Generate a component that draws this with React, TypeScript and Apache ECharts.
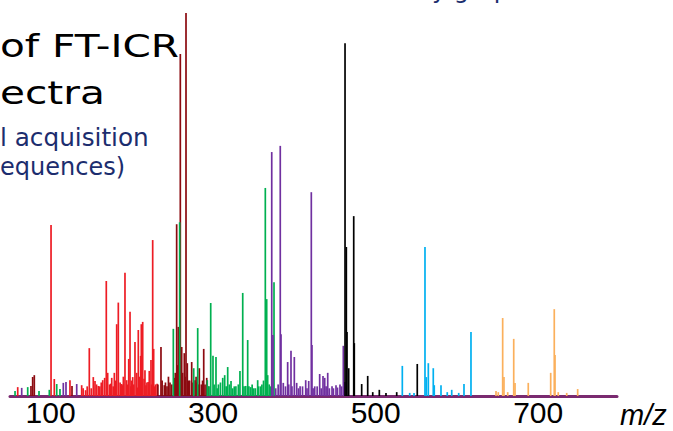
import React, { useEffect, useRef } from "react";
import * as echarts from "echarts";

// m/z axis tick labels
const tickValues = [100, 300, 500, 700];

// Peaks: [m/z, relative intensity]
const redPeaks: number[][] = [
  [59.5, 2.3], [100.5, 44.3], [104.5, 4.4], [123.8, 4.1], [138.2, 2.8], [140.0, 2.0],
  [143.0, 1.5], [145.0, 2.5], [147.6, 12.4], [150.0, 2.0], [152.5, 4.9], [154.6, 3.9],
  [156.5, 3.0], [158.7, 2.6], [160.5, 2.5], [162.3, 3.5], [164.1, 4.1], [166.5, 4.7],
  [168.5, 29.8], [170.2, 6.0], [172.5, 3.0], [174.0, 3.2], [175.2, 4.7], [177.0, 2.5],
  [178.4, 6.0], [180.0, 4.0], [181.3, 18.6], [183.3, 24.2], [185.5, 3.5], [186.5, 3.0],
  [187.5, 3.1], [188.6, 2.8], [189.5, 5.0], [191.5, 31.9], [193.6, 4.1], [195.0, 3.0],
  [196.1, 9.6], [197.7, 21.8], [198.8, 2.5], [199.5, 4.0], [201.0, 4.9], [202.2, 3.0],
  [203.8, 14.0], [205.9, 6.0], [206.8, 2.2], [207.9, 17.1], [209.5, 5.0], [210.8, 10.4],
  [211.6, 18.6], [212.4, 3.5], [213.3, 19.2], [215.0, 4.5], [216.1, 6.7], [217.3, 2.8],
  [218.5, 3.5], [220.0, 3.6], [221.4, 6.5], [223.5, 9.3], [224.4, 3.0], [225.6, 40.4],
  [226.8, 12.2], [227.8, 2.5], [229.0, 3.0], [231.0, 3.2],
];
const darkRedPeaks: number[][] = [
  [75.8, 2.6], [77.9, 4.9], [79.9, 5.4], [126.3, 2.6], [232.0, 3.0], [235.8, 12.7],
  [237.2, 4.0], [239.9, 2.8], [241.3, 3.5], [243.2, 2.5], [245.0, 5.0], [246.9, 3.5],
  [249.0, 3.0], [252.2, 4.7], [253.4, 6.0], [255.1, 44.5], [256.2, 8.0], [257.1, 17.9],
  [259.6, 88.6], [261.3, 12.7], [262.4, 6.0], [264.5, 11.1], [265.5, 5.0], [266.6, 99.2],
  [268.2, 8.5], [270.0, 4.0], [271.0, 4.0], [273.6, 8.8], [275.2, 3.5], [277.7, 4.1],
  [279.0, 5.0], [280.0, 3.5], [282.0, 3.0], [283.0, 7.2], [285.5, 3.0], [287.0, 4.0],
  [288.4, 12.2], [290.0, 3.0], [292.1, 4.7], [294.0, 2.5],
];
const greenPeaks: number[][] = [
  [56.2, 1.3], [71.8, 2.3], [85.7, 1.3], [98.4, 1.6], [107.5, 3.1], [111.5, 1.8],
  [251.0, 17.4], [258.8, 45.0], [276.1, 7.2], [281.0, 17.6], [292.8, 4.1], [295.0, 2.5],
  [297.0, 24.1], [299.8, 10.4], [301.2, 3.0], [303.5, 10.1], [305.0, 2.0], [306.5, 3.0],
  [309.0, 3.5], [311.8, 4.7], [314.2, 5.4], [316.0, 2.5], [317.9, 7.5], [320.0, 3.0],
  [322.0, 3.9], [324.0, 2.0], [326.0, 2.5], [328.0, 2.5], [331.0, 3.0], [333.0, 6.5],
  [336.4, 26.7], [338.0, 2.5], [340.1, 2.6], [342.5, 14.5], [344.0, 2.5], [346.2, 2.3],
  [348.0, 3.0], [350.0, 2.0], [352.0, 2.0], [354.8, 4.1], [356.0, 2.5], [358.5, 2.5],
  [360.0, 3.0], [362.0, 4.0], [364.2, 53.9], [365.9, 25.1], [367.1, 5.4], [369.0, 3.0],
  [371.0, 2.5], [374.9, 29.5],
];
const purplePeaks: number[][] = [
  [64.4, 2.1], [115.6, 3.4], [118.9, 3.6], [132.1, 3.1], [372.1, 63.2], [373.6, 15.8],
  [377.0, 2.0], [380.0, 3.0], [382.6, 64.8], [383.5, 16.0], [386.3, 3.4], [389.0, 2.5],
  [391.7, 8.8], [393.0, 3.0], [395.8, 11.7], [397.0, 2.5], [399.9, 10.1], [402.8, 3.4],
  [405.0, 2.0], [407.0, 2.5], [410.0, 2.5], [413.9, 4.1], [415.5, 2.0], [417.6, 3.9],
  [420.8, 52.8], [421.6, 13.2], [423.0, 2.0], [425.0, 2.5], [428.0, 2.5], [431.1, 5.7],
  [433.0, 2.0], [435.2, 5.2], [437.3, 4.7], [439.0, 2.5], [441.0, 6.0], [443.0, 2.0],
  [446.3, 2.5], [448.0, 2.0], [451.2, 2.8], [453.0, 2.2], [456.1, 3.0], [458.0, 2.5],
  [460.2, 13.0], [462.2, 3.6],
];
const blackPeaks: number[][] = [
  [462.3, 91.4], [463.9, 38.6], [464.7, 16.6], [466.8, 7.2], [473.0, 46.6], [473.7, 13.7],
  [482.8, 3.1], [490.2, 5.2], [496.4, 1.0], [504.5, 1.6], [512.7, 0.8], [525.9, 1.0],
  [551.2, 8.3],
];
const bluePeaks: number[][] = [
  [532.8, 7.8], [541.9, 0.8], [547.2, 0.8], [560.7, 38.6], [562.3, 4.9], [564.8, 8.5],
  [570.9, 7.2], [572.1, 2.8], [580.4, 2.8], [588.1, 1.0], [593.6, 1.6], [602.2, 0.8],
  [608.7, 3.1], [617.3, 16.6],
];
const orangePeaks: number[][] = [
  [648.1, 1.3], [650.9, 1.0], [656.3, 20.2], [657.9, 4.9], [662.5, 1.0], [669.9, 14.8],
  [671.5, 3.4], [687.8, 3.4], [715.4, 6.0], [719.8, 22.5], [720.7, 10.6], [724.7, 1.0],
  [735.1, 0.8], [748.6, 1.8],
];

const seriesDefs: { name: string; color: string; data: number[][] }[] = [
  { name: "red", color: "#ed1c24", data: redPeaks },
  { name: "darkred", color: "#8c0a10", data: darkRedPeaks },
  { name: "green", color: "#00b050", data: greenPeaks },
  { name: "purple", color: "#7030a0", data: purplePeaks },
  { name: "black", color: "#000000", data: blackPeaks },
  { name: "blue", color: "#00b0f0", data: bluePeaks },
  { name: "orange", color: "#fbb05c", data: orangePeaks },
];

export default function App() {
  const ref = useRef<HTMLDivElement>(null);
  useEffect(() => {
    if (!ref.current) return;
    const chart = echarts.init(ref.current, undefined, { renderer: "svg" });
    const series = seriesDefs.map((s) => ({
      type: "custom",
      name: s.name,
      data: s.data,
      renderItem: (params: any, api: any) => {
        const x = api.value(0);
        const y = api.value(1);
        const p0 = api.coord([x, 0]);
        const p1 = api.coord([x, y]);
        const w = 1.7;
        return {
          type: "rect",
          shape: { x: p0[0] - w / 2, y: p1[1], width: w, height: p0[1] - p1[1] },
          style: { fill: s.color },
        };
      },
    }));
    chart.setOption({
      animation: false,
      backgroundColor: "#ffffff",
      grid: { left: 10, right: 56, top: 10, bottom: 35 },
      xAxis: {
        type: "value",
        min: 50,
        max: 797,
        splitLine: { show: false },
        axisLine: { lineStyle: { color: "#7a2a70", width: 3 } },
        axisTick: { show: false },
        axisLabel: {
          customValues: tickValues,
          color: "#000",
          fontSize: 30,
          fontFamily: "Liberation Sans",
          margin: 1,
        },
        name: "m/z",
        nameLocation: "end",
        nameGap: 3,
        nameTextStyle: {
          fontStyle: "italic",
          fontSize: 29,
          fontFamily: "Liberation Sans",
          color: "#000",
          verticalAlign: "top",
          padding: [4, 0, 0, 0],
        },
      },
      yAxis: { type: "value", min: 0, max: 100, show: false },
      graphic: [
        { type: "text", left: 0, top: 30, style: { text: "of FT-ICR", fontSize: 32, fontFamily: "DejaVu Sans", fill: "#000" }, scaleX: 1.27 },
        { type: "text", left: 0, top: 77, style: { text: "ectra", fontSize: 32, fontFamily: "DejaVu Sans", fill: "#000" }, scaleX: 1.27 },
        { type: "text", left: 0, top: 126, style: { text: "l acquisition", fontSize: 24, fontFamily: "DejaVu Sans", fill: "#1c2d6e" }, scaleX: 1.03 },
        { type: "text", left: 0, top: 155, style: { text: "equences)", fontSize: 24, fontFamily: "DejaVu Sans", fill: "#1c2d6e" } },
        { type: "text", left: 432, top: -22, style: { text: "y grap", fontSize: 24, fontFamily: "DejaVu Sans", fill: "#1c2d6e" } },
      ],
      series,
    });
    return () => chart.dispose();
  }, []);
  return <div ref={ref} style={{ width: 673, height: 431, position: "absolute", left: 0, top: 0 }} />;
}
